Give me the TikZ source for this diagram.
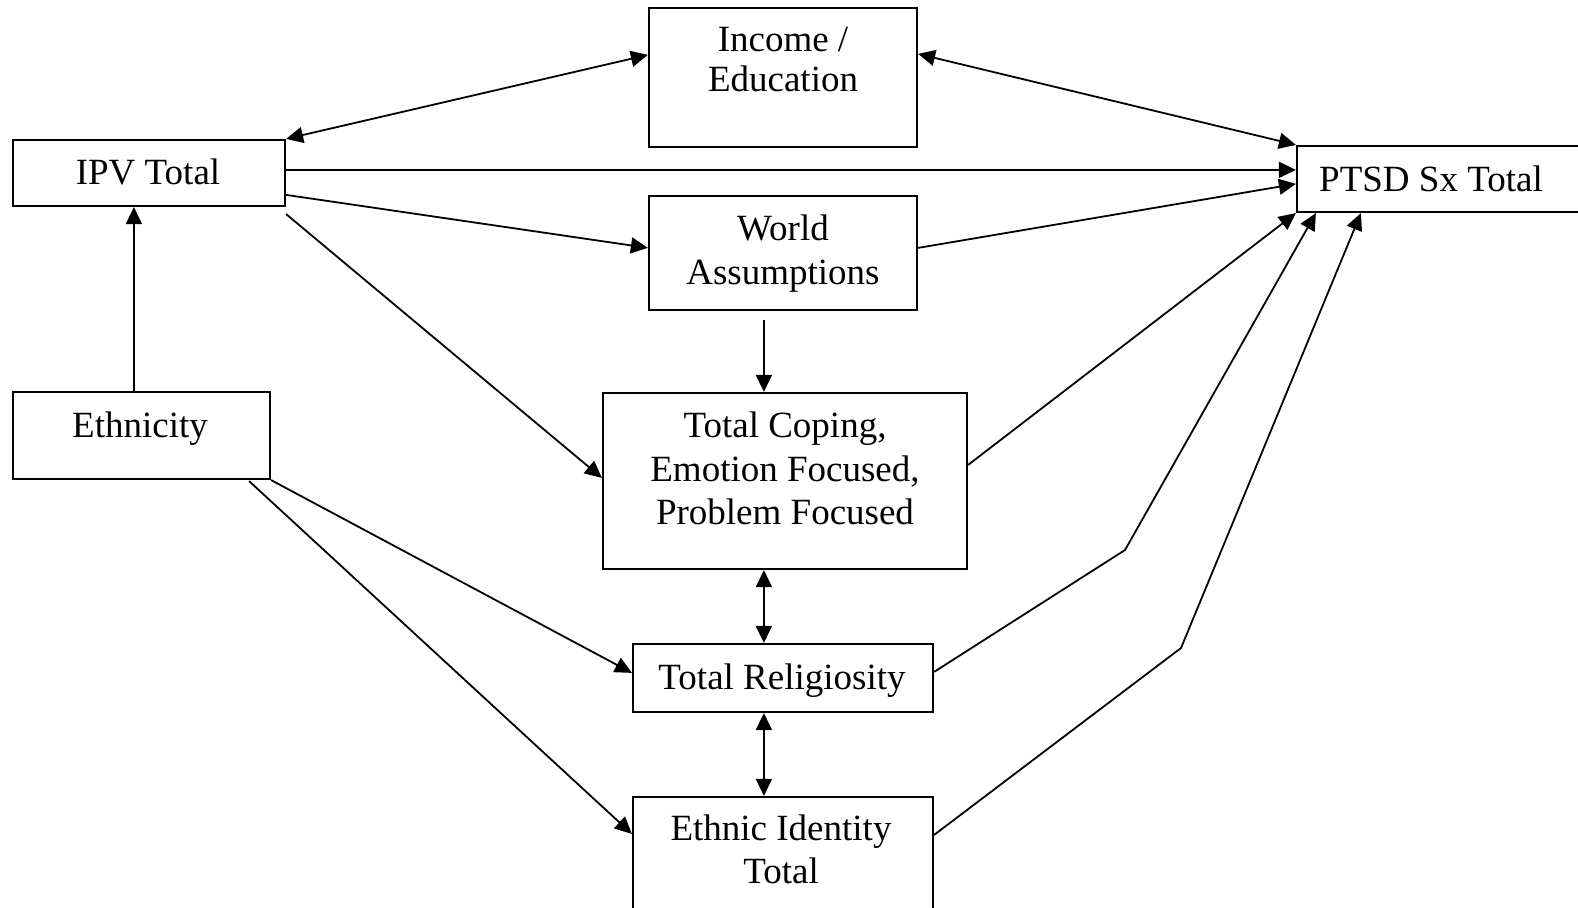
\documentclass[tikz,border=0pt]{standalone}
\usepackage{fontspec}
\setmainfont{Liberation Serif}
\usetikzlibrary{arrows.meta,calc,fit}
\begin{document}
\begin{tikzpicture}[x=0.5pt,y=-0.5pt,
  box/.style={draw,line width=1.1pt,inner sep=0pt,rectangle},
  txt/.style={anchor=base,inner sep=0pt,font=\fontsize{18.5}{21.5}\selectfont},
  conn/.style={line width=0.9pt,-{Triangle[length=8.5pt,width=8pt]}},
  bconn/.style={line width=0.9pt,{Triangle[length=8.5pt,width=8pt]}-{Triangle[length=8.5pt,width=8pt]}},
  pconn/.style={line width=0.9pt}]
\fill[white] (0,0) rectangle (1578,908);
\useasboundingbox (0,0) rectangle (1578,908);
% boxes
\node[box,fit={(649,8)(917,147)}] (inc) {};
\node[box,fit={(13,140)(285,206)}] (ipv) {};
\node[box,fit={(1297,146)(1640,212)}] (ptsd) {};
\node[box,fit={(649,196)(917,310)}] (world) {};
\node[box,fit={(13,392)(270,479)}] (eth) {};
\node[box,fit={(603,393)(967,569)}] (cope) {};
\node[box,fit={(633,644)(933,712)}] (rel) {};
\node[box,fit={(633,797)(933,980)}] (eid) {};
% texts
\node[txt] (tinc1) at (783,52) {Income /};
\node[txt] (tinc2) at (783,92) {Education};
\node[txt] (tipv) at (148,185) {IPV Total};
\node[txt] (tptsd) at (1431,192) {PTSD Sx Total};
\node[txt] (tw1) at (783,241) {World};
\node[txt] (tw2) at (783,285) {Assumptions};
\node[txt] (teth) at (140,438) {Ethnicity};
\node[txt] (tc1) at (785,438) {Total Coping,};
\node[txt] (tc2) at (785,481) {Emotion Focused,};
\node[txt] (tc3) at (785,524) {Problem Focused};
\node[txt] (trel) at (782,689) {Total Religiosity};
\node[txt] (te1) at (781,840) {Ethnic Identity};
\node[txt] (te2) at (781,883) {Total};
% bend points
\coordinate (b1) at (1125,550);
\coordinate (b2) at (1181,648);
% connectors
\draw[bconn] (ipv.north east) -- ($(inc.north west)+(0,48)$);
\draw[bconn] ($(inc.north east)+(0,47)$) -- (ptsd.north west);
\draw[conn] ($(ipv.north east)+(0,31)$) -- ($(ptsd.north west)+(0,25)$);
\draw[conn] ($(ipv.north east)+(0,56)$) -- ($(world.north west)+(0,53)$);
\draw[conn] ($(world.north east)+(0,53)$) -- ($(ptsd.north west)+(0,39)$);
\draw[conn] ($(ipv.south east)+(0,7)$) -- ($(cope.north west)+(0,86)$);
\draw[conn] ($(eth.north west)+(122,0)$) -- ($(ipv.south west)+(122,0)$);
\draw[conn] ($(world.south west)+(116,9)$) -- ($(cope.north west)+(162,0)$);
\draw[conn] ($(cope.north east)+(0,73)$) -- (ptsd.south west);
\draw[bconn] ($(cope.south west)+(162,0)$) -- ($(rel.north west)+(132,0)$);
\draw[bconn] ($(rel.south west)+(132,0)$) -- ($(eid.north west)+(132,0)$);
\draw[conn] (eth.south east) -- ($(rel.north west)+(0,30)$);
\draw[conn] ($(eth.south east)+(-22,1)$) -- ($(eid.north west)+(0,38)$);
\draw[conn] ($(rel.north east)+(0,29)$) -- (b1) -- ($(ptsd.south west)+(20,0)$);
\draw[conn] ($(eid.north east)+(0,39)$) -- (b2) -- ($(ptsd.south west)+(65,0)$);
\end{tikzpicture}
\end{document}
